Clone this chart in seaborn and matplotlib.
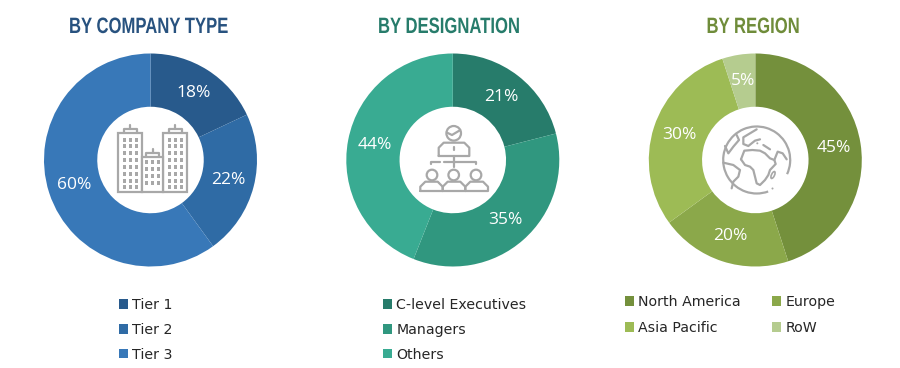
import matplotlib
matplotlib.use('Agg')
import matplotlib.pyplot as plt
from matplotlib.patches import Circle, Rectangle, Ellipse, Arc
from matplotlib.patheffects import AbstractPathEffect
from matplotlib.transforms import Affine2D
import seaborn as sns

W, H = 900, 368

titles = ['BY COMPANY TYPE', 'BY DESIGNATION', 'BY REGION']

company_labels = ['Tier 1', 'Tier 2', 'Tier 3']
company_values = [18, 22, 60]
company_colors = ['#285A8C', '#2F6BA5', '#3878B8']

designation_labels = ['C-level Executives', 'Managers', 'Others']
designation_values = [21, 35, 44]
designation_colors = ['#277C6B', '#30977F', '#39AB92']

region_labels = ['North America', 'Europe', 'Asia Pacific', 'RoW']
region_values = [45, 20, 30, 5]
region_colors = ['#74903C', '#8BA84A', '#9DBB55', '#B5CC8F']

title_colors = ['#28527F', '#277C6B', '#6F8C3A']
ICON = '#A8A8A8'
LW = 1.6
RADIUS = 106.5

sns.set_theme(style='white')
plt.rcParams['font.family'] = ['Liberation Sans', 'DejaVu Sans']


# no condensed face is installed, so squeeze the glyphs of the title text
class Condense(AbstractPathEffect):
    def __init__(self, sx):
        super().__init__()
        self.sx = sx

    def draw_path(self, renderer, gc, tpath, affine, rgbFace=None):
        renderer.draw_path(gc, tpath, Affine2D().scale(self.sx, 1) + affine, rgbFace)


def donut(fig, cx, cy, values, colors):
    ax = fig.add_axes([(cx - RADIUS) / W, 1 - (cy + RADIUS) / H, 2 * RADIUS / W, 2 * RADIUS / H])
    wedges, _, pcts = ax.pie(values, colors=colors, startangle=90, counterclock=False, radius=1,
                             autopct=lambda p: '%d%%' % round(p), pctdistance=0.75,
                             wedgeprops={'width': 0.5, 'linewidth': 0})
    for t in pcts:
        t.set_color('white')
        t.set_fontsize(12.5)
        t.set_family(['Open Sans', 'DejaVu Sans'])
    ax.set_xlim(-1, 1)
    ax.set_ylim(-1, 1)
    return wedges


def add_legend(fig, handles, labels, x, y, ncol=1, colspace=1.5, spacing=0.76):
    fig.legend(handles, labels, loc='upper left', bbox_to_anchor=(x / W, 1 - y / H), bbox_transform=fig.transFigure,
               ncol=ncol, frameon=False, handlelength=0.65, handleheight=0.65, handletextpad=0.3,
               labelspacing=spacing, columnspacing=colspace, borderpad=0, borderaxespad=0,
               prop={'family': ['DejaVu Sans'], 'size': 10.2}, labelcolor='#262626')


def line(ov, ox, oy, pts, lw=LW):
    ov.plot([ox + p[0] / 3 for p in pts], [oy + p[1] / 3 for p in pts], color=ICON, lw=lw,
            solid_joinstyle='round', solid_capstyle='round')


def building(ov, x0, x1, top, bottom, win_x, win_y):
    ov.add_patch(Rectangle((x0, top), x1 - x0, bottom - top, fc='white', ec=ICON, lw=LW))
    mid = (x0 + x1) / 2
    ov.plot([mid - 6.5, mid - 6.5, mid + 6.5, mid + 6.5], [top, top - 4, top - 4, top], color=ICON, lw=LW)
    ov.plot([mid, mid], [top - 8, top - 4], color=ICON, lw=LW)
    for wx in win_x:
        for wy in win_y:
            ov.add_patch(Rectangle((wx - 1.5, wy - 2), 3, 4, fc=ICON, ec='none'))


def person(ov, cx, head_y, head_r, x0, x1, top, bottom):
    ov.add_patch(Circle((cx, head_y), head_r, fc='white', ec=ICON, lw=LW))
    xs = [x0, x0, x0 + 5, x1 - 5, x1, x1, x0]
    ys = [bottom, top + 5, top, top, top + 5, bottom, bottom]
    ov.plot(xs, ys, color=ICON, lw=LW, solid_joinstyle='round')


def draw_icons(ov):
    # buildings
    rows = [139.5, 146.4, 153.3, 160.2, 167.1, 174, 180.9, 187]
    building(ov, 118.3, 141.7, 133.3, 191.7, [124, 130, 136], rows)
    building(ov, 163.3, 187.3, 133.3, 191.7, [169, 175, 181], rows)
    building(ov, 141.7, 163.3, 156.7, 191.7, [146.7, 152.3, 158], [162, 169, 176, 183])

    # org chart
    person(ov, 453.7, 133.3, 7.3, 438.7, 469.3, 142.7, 156)
    line(ov, 412, 120, [(105, 38), (120, 45), (145, 30)])
    line(ov, 412, 120, [(125, 108), (125, 142)])
    line(ov, 412, 120, [(58, 133), (58, 125), (85, 125)])
    line(ov, 412, 120, [(95, 125), (192, 125), (192, 133)])
    ov.plot([453.7, 453.7], [147, 150], color=ICON, lw=LW)
    person(ov, 432, 175, 5.3, 420.3, 442.7, 181.7, 191)
    person(ov, 453.7, 175, 5.3, 442.7, 465.3, 181.7, 191)
    person(ov, 476, 175, 5.3, 465.3, 488, 181.7, 191)

    # globe
    ov.add_patch(Arc((756.7, 160), 67, 67, theta1=70, theta2=25, angle=0, ec=ICON, lw=LW))
    ov.add_patch(Circle((772.5, 188.5), 1, fc=ICON, ec='none'))
    line(ov, 715, 120, [(78, 118), (88, 92), (112, 90), (135, 92), (150, 100), (165, 115), (178, 120), (188, 95),
                        (203, 100), (215, 118)])
    line(ov, 715, 120, [(178, 120), (182, 132), (165, 150), (160, 165), (150, 180), (135, 195), (125, 190),
                        (120, 170), (115, 150), (105, 140), (90, 135), (78, 118)])
    line(ov, 715, 120, [(125, 28), (105, 40), (85, 52), (85, 72), (100, 78), (120, 62), (135, 58)])
    line(ov, 715, 120, [(145, 75), (165, 88)])
    line(ov, 715, 120, [(65, 45), (72, 60), (55, 80), (40, 100), (30, 78)])
    line(ov, 715, 120, [(25, 128), (55, 135), (75, 150), (70, 170), (55, 185), (50, 205)])
    ov.add_patch(Circle((715 + 127 / 3, 120 + 70 / 3), 1, fc=ICON, ec='none'))
    ov.add_patch(Ellipse((715 + 174 / 3, 120 + 165 / 3), 3, 7.5, angle=25, fc='white', ec=ICON, lw=1.2))


fig = plt.figure(figsize=(W / 100, H / 100), dpi=100, facecolor='white')

w1 = donut(fig, 150.5, 160, company_values, company_colors)
w2 = donut(fig, 452.8, 160, designation_values, designation_colors)
w3 = donut(fig, 755.3, 160, region_values, region_colors)

for text, x, color in zip(titles, [69, 378, 706.5], title_colors):
    fig.text(x / W, 1 - 27.5 / H, text, ha='left', va='center', color=color, fontsize=16, fontweight='bold',
             path_effects=[Condense(0.75)])

add_legend(fig, w1, company_labels, 119, 298)
add_legend(fig, w2, designation_labels, 383, 298)
# legend fills by column, the reference reads across the rows
add_legend(fig, [w3[0], w3[2], w3[1], w3[3]], [region_labels[i] for i in [0, 2, 1, 3]], 625, 295, ncol=2,
           colspace=2.2, spacing=0.85)

ov = fig.add_axes([0, 0, 1, 1], zorder=5)
ov.set_xlim(0, W)
ov.set_ylim(H, 0)
ov.axis('off')
ov.patch.set_alpha(0)
draw_icons(ov)

plt.savefig('out.png', dpi=100)
